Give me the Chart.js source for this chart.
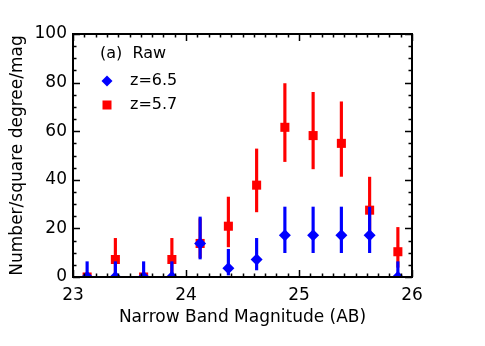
<!DOCTYPE html>
<html lang="en">
<head>
    <meta charset="UTF-8">
    <title>Narrow Band Number Counts</title>
    <script src="https://cdn.jsdelivr.net/npm/chart.js"></script>
    <style>
        body { margin: 0; background: #fff; }
    </style>
</head>
<body>
    <canvas id="countsChart" width="485" height="346"></canvas>

    <script>
        // Bin centres (narrow band magnitude, AB)
        var mags = [23.125, 23.375, 23.625, 23.875, 24.125, 24.375, 24.625, 24.875, 25.125, 25.375, 25.625, 25.875];

        // z=6.5 counts and error bar ends
        var z65 = [0, 0, 0, 0, 13.8, 3.6, 7.2, 17.2, 17.2, 17.2, 17.2, 0];
        var z65Lo = [0, 0, 0, 0, 7.4, 0.8, 2.9, 10, 10, 10, 10, 0];
        var z65Hi = [6.3, 6.3, 6.3, 6.3, 24.7, 11.4, 15.9, 28.8, 28.8, 28.8, 28.8, 6.3];

        // z=5.7 counts and error bar ends
        var z57 = [0, 7.2, 0, 7.2, 13.8, 20.9, 37.8, 61.6, 58.2, 55.0, 27.5, 10.4];
        var z57Lo = [null, 1.2, null, 1.2, 8, 12.4, 26.8, 47.5, 44.5, 41.4, 17, 4];
        var z57Hi = [null, 15.9, null, 15.9, 24, 32.9, 52.7, 79.6, 76.0, 72.1, 41.1, 20.4];

        var xTicks = [23, 24, 25, 26];
        var yTicks = [0, 20, 40, 60, 80, 100];

        function points(vals) {
            return mags.map(function(m, i) { return { x: m, y: vals[i] }; });
        }
        function errBars(lo, hi) {
            var out = [];
            mags.forEach(function(m, i) {
                if (lo[i] !== null) out.push({ x: m, y: [lo[i], hi[i]] });
            });
            return out;
        }

        var FONT = 'DejaVu Sans';

        // IDL style box with inward ticks, plus the little legend
        var idlAxes = {
            id: 'idlAxes',
            afterDraw: function(chart) {
                var ctx = chart.ctx, a = chart.chartArea;
                var xs = chart.scales.x, ys = chart.scales.y;
                ctx.save();
                ctx.strokeStyle = '#000';
                ctx.lineWidth = 1.5;
                ctx.beginPath();
                for (var i = 0; i <= 30; i++) {
                    var px = Math.round(xs.getPixelForValue(23 + i / 10)) + 0.5;
                    var len = i % 10 === 0 ? 7 : 3.5;
                    ctx.moveTo(px, a.bottom); ctx.lineTo(px, a.bottom - len);
                    ctx.moveTo(px, a.top); ctx.lineTo(px, a.top + len);
                }
                for (var j = 0; j <= 20; j++) {
                    var py = Math.round(ys.getPixelForValue(j * 5)) + 0.5;
                    var l2 = j % 4 === 0 ? 7 : 3.5;
                    ctx.moveTo(a.left, py); ctx.lineTo(a.left + l2, py);
                    ctx.moveTo(a.right, py); ctx.lineTo(a.right - l2, py);
                }
                ctx.stroke();
                ctx.lineWidth = 2;
                ctx.strokeRect(a.left, a.top, a.right - a.left, a.bottom - a.top);

                // legend
                ctx.fillStyle = '#000';
                ctx.font = '16px ' + FONT;
                ctx.textBaseline = 'middle';
                ctx.fillText('(a)  Raw', 100, 54);
                ctx.fillText('z=6.5', 130, 81);
                ctx.fillText('z=5.7', 130, 105);
                ctx.fillStyle = '#0000ff';
                ctx.beginPath();
                ctx.moveTo(107, 75.5); ctx.lineTo(112.5, 81); ctx.lineTo(107, 86.5); ctx.lineTo(101.5, 81);
                ctx.closePath();
                ctx.fill();
                ctx.fillStyle = '#ff0000';
                ctx.fillRect(102.5, 100.5, 9, 9);
                ctx.restore();
            }
        };

        var ctx = document.getElementById('countsChart').getContext('2d');
        var chart = new Chart(ctx, {
            data: {
                datasets: [{
                    type: 'bar',
                    label: 'z=5.7 error',
                    data: errBars(z57Lo, z57Hi),
                    backgroundColor: '#ff0000',
                    barThickness: 2.5,
                    grouped: false,
                    clip: 0,
                    order: 4
                }, {
                    type: 'scatter',
                    label: 'z=5.7',
                    data: points(z57),
                    pointStyle: 'rect',
                    pointRadius: 6.4,
                    backgroundColor: '#ff0000',
                    borderWidth: 0,
                    clip: 0,
                    order: 3
                }, {
                    type: 'bar',
                    label: 'z=6.5 error',
                    data: errBars(z65Lo, z65Hi),
                    backgroundColor: '#0000ff',
                    barThickness: 2.5,
                    grouped: false,
                    clip: 0,
                    order: 2
                }, {
                    type: 'scatter',
                    label: 'z=6.5',
                    data: points(z65),
                    pointStyle: 'rectRot',
                    pointRadius: 6,
                    backgroundColor: '#0000ff',
                    borderWidth: 0,
                    clip: 0,
                    order: 1
                }]
            },
            options: {
                responsive: false,
                animation: false,
                layout: { padding: { top: 34, right: 73, bottom: 0, left: 0 } },
                plugins: { legend: { display: false }, tooltip: { enabled: false } },
                scales: {
                    x: {
                        type: 'linear',
                        min: 23, max: 26,
                        offset: false,
                        afterBuildTicks: function(s) { s.ticks = xTicks.map(function(v) { return { value: v }; }); },
                        afterFit: function(s) { s.height = 69; },
                        ticks: { color: '#000', font: { family: FONT, size: 17 }, padding: 8, maxRotation: 0 },
                        grid: { display: false, drawTicks: false, offset: false },
                        border: { display: false },
                        title: {
                            display: true,
                            text: 'Narrow Band Magnitude (AB)',
                            color: '#000',
                            font: { family: FONT, size: 17 },
                            padding: { top: 0, bottom: 18 }
                        }
                    },
                    y: {
                        type: 'linear',
                        min: 0, max: 100,
                        afterBuildTicks: function(s) { s.ticks = yTicks.map(function(v) { return { value: v }; }); },
                        afterFit: function(s) { s.width = 73; },
                        ticks: { color: '#000', font: { family: FONT, size: 17 }, padding: 6 },
                        grid: { display: false, drawTicks: false },
                        border: { display: false },
                        title: {
                            display: true,
                            text: 'Number/square degree/mag',
                            color: '#000',
                            font: { family: FONT, size: 17 },
                            padding: { top: 7, bottom: 0 }
                        }
                    }
                }
            },
            plugins: [idlAxes]
        });
    </script>
</body>
</html>
